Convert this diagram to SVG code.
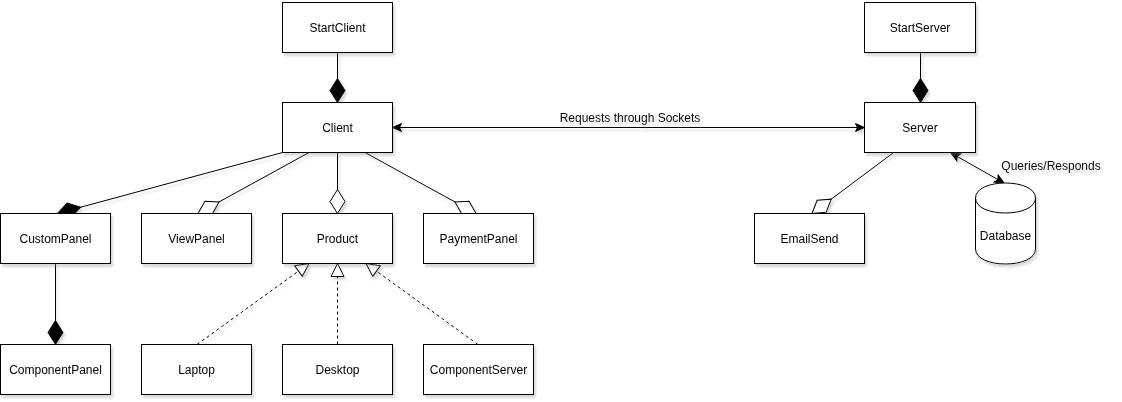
<svg xmlns="http://www.w3.org/2000/svg" width="1122" height="402" viewBox="0 0 1122 402">
<defs>
<filter id="shadow" filterUnits="userSpaceOnUse" x="0" y="0" width="1122" height="402">
<feDropShadow dx="2" dy="3" stdDeviation="1.2" flood-color="#808080" flood-opacity="0.3"/>
</filter>
<marker id="dFill" markerUnits="userSpaceOnUse" markerWidth="26" markerHeight="18" refX="25" refY="9" orient="auto" style="overflow:visible">
<path d="M1,9 L13,1.5 L25,9 L13,16.5 Z" fill="#000" stroke="#000" stroke-width="1"/>
</marker>
<marker id="dOpen" markerUnits="userSpaceOnUse" markerWidth="26" markerHeight="18" refX="25" refY="9" orient="auto" style="overflow:visible">
<path d="M1,9 L13,1.5 L25,9 L13,16.5 Z" fill="#fff" stroke="#000" stroke-width="1"/>
</marker>
<marker id="tri" markerUnits="userSpaceOnUse" markerWidth="16" markerHeight="16" refX="14" refY="7.5" orient="auto" style="overflow:visible">
<path d="M1,1 L14,7.5 L1,14 Z" fill="#fff" stroke="#000" stroke-width="1"/>
</marker>
<marker id="arr" markerUnits="userSpaceOnUse" markerWidth="12" markerHeight="10" refX="10" refY="5" orient="auto-start-reverse" style="overflow:visible">
<path d="M1,1 L10,5 L1,9 L3,5 Z" fill="#000" stroke="#000" stroke-width="1"/>
</marker>
</defs>
<style>
.box{fill:#fff;stroke:#000;stroke-width:1}
.t{font-family:"Liberation Sans",Arial,Helvetica,sans-serif;font-size:12px;fill:#000;text-anchor:middle}
.c{fill:none;stroke:#000;stroke-width:1}
.dash{stroke-dasharray:3 3}
</style>
<g id="connectors" filter="url(#shadow)">
<path class="c" d="M337.5,52.5 L337.5,102.5" marker-end="url(#dFill)"/>
<path class="c" d="M920.5,52.5 L920.5,102.5" marker-end="url(#dFill)"/>
<path class="c" d="M392.5,127.5 L864.5,127.5" marker-start="url(#arr)" marker-end="url(#arr)"/>
<path class="c" d="M282.5,152.5 L57.5,213.5" marker-end="url(#dFill)"/>
<path class="c" d="M309,152.5 L198,213.5" marker-end="url(#dOpen)"/>
<path class="c" d="M337.5,152.5 L337.5,213.5" marker-end="url(#dOpen)"/>
<path class="c" d="M365,152.5 L476,213.5" marker-end="url(#dOpen)"/>
<path class="c" d="M55.5,263.5 L55.5,344.5" marker-end="url(#dFill)"/>
<path class="c dash" d="M197,344.5 L309,263.5" marker-end="url(#tri)"/>
<path class="c dash" d="M337.5,344.5 L337.5,263.5" marker-end="url(#tri)"/>
<path class="c dash" d="M478,344.5 L366,263.5" marker-end="url(#tri)"/>
<path class="c" d="M893,153 L812,213.5" marker-end="url(#dOpen)"/>
<path class="c" d="M951,153 L1004,183" marker-start="url(#arr)" marker-end="url(#arr)"/>
<text class="t" x="630" y="122">Requests through Sockets</text>
<text class="t" x="1051" y="170">Queries/Responds</text>
</g>
<g id="StartClient" filter="url(#shadow)"><rect class="box" x="282.5" y="2.5" width="110" height="50"/><text class="t" x="337.5" y="31.5">StartClient</text></g>
<g id="Client" filter="url(#shadow)"><rect class="box" x="282.5" y="102.5" width="110" height="50"/><text class="t" x="337.5" y="131.5">Client</text></g>
<g id="StartServer" filter="url(#shadow)"><rect class="box" x="864.5" y="2.5" width="111" height="50"/><text class="t" x="920" y="31.5">StartServer</text></g>
<g id="Server" filter="url(#shadow)"><rect class="box" x="864.5" y="102.5" width="111" height="50"/><text class="t" x="920" y="131.5">Server</text></g>
<g id="CustomPanel" filter="url(#shadow)"><rect class="box" x="0.5" y="213.5" width="110" height="50"/><text class="t" x="55.5" y="242.5">CustomPanel</text></g>
<g id="ViewPanel" filter="url(#shadow)"><rect class="box" x="141.5" y="213.5" width="110" height="50"/><text class="t" x="196.5" y="242.5">ViewPanel</text></g>
<g id="Product" filter="url(#shadow)"><rect class="box" x="282.5" y="213.5" width="110" height="50"/><text class="t" x="337.5" y="242.5">Product</text></g>
<g id="PaymentPanel" filter="url(#shadow)"><rect class="box" x="423.5" y="213.5" width="110" height="50"/><text class="t" x="478.5" y="242.5">PaymentPanel</text></g>
<g id="EmailSend" filter="url(#shadow)"><rect class="box" x="754.5" y="213.5" width="110" height="50"/><text class="t" x="809.5" y="242.5">EmailSend</text></g>
<g id="Database" filter="url(#shadow)">
<path class="box" d="M975.5,198 C975.5,178 1035.5,178 1035.5,198 L1035.5,249 C1035.5,269 975.5,269 975.5,249 Z"/>
<path class="c" d="M975.5,198 C975.5,218 1035.5,218 1035.5,198"/>
<text class="t" x="1005.5" y="240">Database</text></g>
<g id="ComponentPanel" filter="url(#shadow)"><rect class="box" x="0.5" y="344.5" width="110" height="50"/><text class="t" x="55.5" y="373.5">ComponentPanel</text></g>
<g id="Laptop" filter="url(#shadow)"><rect class="box" x="141.5" y="344.5" width="110" height="50"/><text class="t" x="196.5" y="373.5">Laptop</text></g>
<g id="Desktop" filter="url(#shadow)"><rect class="box" x="282.5" y="344.5" width="110" height="50"/><text class="t" x="337.5" y="373.5">Desktop</text></g>
<g id="ComponentServer" filter="url(#shadow)"><rect class="box" x="423.5" y="344.5" width="110" height="50"/><text class="t" x="478.5" y="373.5">ComponentServer</text></g>
</svg>
